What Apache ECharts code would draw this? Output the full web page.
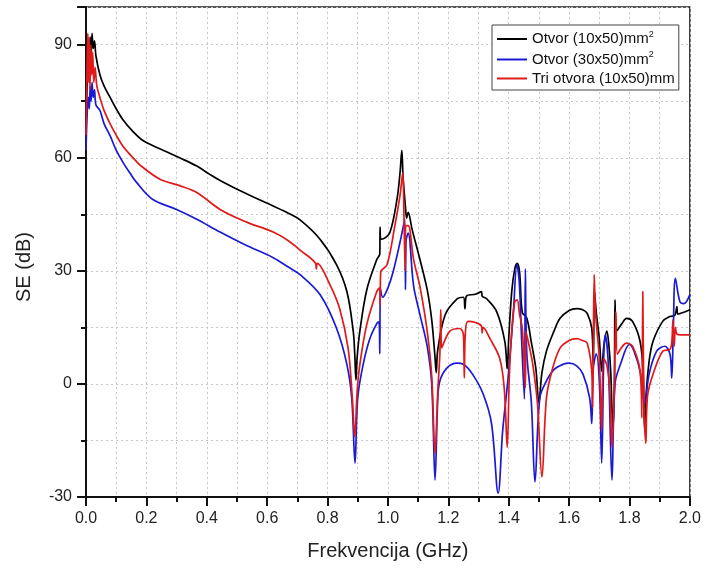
<!DOCTYPE html>
<html>
<head>
<meta charset="utf-8">
<script src="https://cdn.jsdelivr.net/npm/echarts@6/dist/echarts.min.js"></script>
<style>html,body{margin:0;padding:0;background:#fff}#c{width:704px;height:575px}</style>
</head>
<body>
<div id="c"></div>
<script>
// Series names
const seriesNames = ['Otvor (10x50)mm{sup|2}', 'Otvor (30x50)mm{sup|2}', 'Tri otvora (10x50)mm'];
// Axis ticks
const xTicks = [0.0, 0.2, 0.4, 0.6, 0.8, 1.0, 1.2, 1.4, 1.6, 1.8, 2.0];
const yTicks = [-30, 0, 30, 60, 90];

// [frequency GHz, SE dB]
const black = [
[0.000,68],[0.004,80],[0.008,88],[0.011,84],[0.014,92],[0.017,87],[0.020,93],[0.024,89],[0.028,91],[0.033,87],
[0.046,82],[0.06,79],[0.08,76],[0.10,73],[0.123,70],[0.155,67],[0.19,64.5],[0.255,62],[0.31,60],[0.367,57.8],
[0.41,55.6],[0.444,54],[0.53,50.5],[0.62,47.2],[0.67,45.3],[0.709,43.5],[0.775,38.4],[0.83,31.6],[0.864,24.5],
[0.885,14],[0.89,8],[0.894,1],[0.898,7],[0.907,14],[0.93,25],[0.963,33],[0.973,34.5],[0.974,41.6],[0.976,38.4],
[0.985,38.5],[1.007,40.3],[1.03,49],[1.04,56],[1.046,62],[1.05,55],[1.058,47],[1.062,44],[1.067,45.5],[1.08,41],
[1.106,33],[1.13,25],[1.145,17],[1.155,8],[1.16,3],[1.165,9],[1.19,18.4],[1.23,22.6],[1.25,23],[1.255,20],
[1.26,23.3],[1.29,23.8],[1.31,24.5],[1.312,23.3],[1.327,22.6],[1.36,19.2],[1.387,11.3],[1.395,4],[1.40,12],
[1.41,24.5],[1.42,30.5],[1.428,32],[1.436,29.7],[1.445,19],[1.46,17.4],[1.475,11],[1.49,4],[1.50,-5],[1.51,3],
[1.525,8.7],[1.55,14],[1.57,17.4],[1.6,19.5],[1.625,20],[1.645,19.7],[1.66,18.7],[1.675,14.7],[1.68,5],[1.684,24.5],
[1.69,19],[1.70,12],[1.708,3.4],[1.715,10],[1.725,14],[1.732,10],[1.738,3],[1.745,-12],[1.75,0],[1.752,22.3],
[1.757,14],[1.775,16],[1.79,17.4],[1.81,16.6],[1.835,11.3],[1.845,3],[1.85,-12],[1.855,-3],[1.865,6],[1.878,11.3],
[1.91,16.6],[1.934,17.9],[1.95,18.2],[1.957,20.5],[1.96,18.5],[1.98,19],[2.0,19.7]
];
const blue = [
[0.000,62],[0.004,72],[0.008,76],[0.011,73],[0.014,79],[0.017,75],[0.020,80],[0.024,76],[0.028,78],[0.033,74],
[0.046,72.6],[0.06,69],[0.08,65.8],[0.10,62],[0.123,58.7],[0.145,56],[0.168,53.4],[0.22,49],[0.3,46.3],[0.367,43.7],
[0.444,40.3],[0.53,36.8],[0.62,33.5],[0.67,31],[0.709,29],[0.775,23.7],[0.83,14.7],[0.864,5.2],[0.88,-3.7],
[0.891,-21],[0.9,-3.7],[0.918,5.2],[0.94,12],[0.963,16],[0.970,16.5],[0.973,8],[0.975,25.3],[0.983,23],[1.0,25.5],
[1.017,29.7],[1.04,37.6],[1.056,43.7],[1.058,25],[1.06,38],[1.067,40],[1.085,26],[1.106,18.4],[1.13,10],[1.145,0],
[1.156,-25.5],[1.165,-4],[1.172,0.8],[1.195,4.2],[1.228,5.5],[1.25,5.2],[1.28,2.6],[1.315,-2.6],[1.343,-10.5],
[1.365,-29],[1.38,-12.4],[1.397,0.8],[1.415,18.4],[1.427,31.6],[1.435,27],[1.443,11.3],[1.452,-4],[1.455,30.5],
[1.46,8],[1.475,-5],[1.487,-26],[1.503,-3.7],[1.525,0.8],[1.55,3.8],[1.58,5.2],[1.60,5.5],[1.625,4.8],[1.646,2.6],
[1.668,-3.7],[1.675,-10.5],[1.68,4],[1.69,8],[1.70,0.8],[1.708,-21],[1.715,8],[1.72,13],[1.73,5],[1.742,-25.5],
[1.752,0],[1.77,5.2],[1.80,10.5],[1.815,8.7],[1.835,3.4],[1.85,-5.3],[1.865,2.6],[1.89,8.7],[1.917,10],[1.934,7.9],
[1.94,1.6],[1.945,14],[1.952,28],[1.967,21.8],[1.98,21.3],[2.0,23.7]
];
const red = [
[0.000,66],[0.003,82],[0.006,93],[0.008,80],[0.010,92],[0.013,78],[0.016,90],[0.019,82],[0.022,88],[0.026,80],
[0.030,84],[0.036,79],[0.046,76],[0.06,72.5],[0.08,69],[0.10,66],[0.123,63],[0.15,60.5],[0.18,58],[0.245,54.3],
[0.31,52.6],[0.367,50.8],[0.444,46.3],[0.53,43],[0.62,40.3],[0.67,38],[0.709,35.5],[0.76,32],[0.763,30.5],[0.766,32],
[0.808,26.3],[0.84,20],[0.868,9.5],[0.882,-3.7],[0.89,-14],[0.898,-2],[0.907,5.2],[0.93,15.8],[0.963,24.5],
[0.972,25.5],[0.974,21],[0.976,29.7],[0.997,31.6],[1.023,42],[1.04,50],[1.049,56],[1.053,45],[1.057,30],[1.059,42],
[1.067,42],[1.085,33],[1.106,25.8],[1.13,14],[1.145,2],[1.156,-18.4],[1.165,-2],[1.172,8],[1.175,19.7],[1.178,9.5],
[1.205,14],[1.238,14.7],[1.25,13],[1.253,1.6],[1.256,13],[1.265,16.6],[1.29,16.3],[1.31,15.3],[1.312,13.5],[1.315,15],
[1.338,12],[1.37,6.8],[1.385,-1],[1.395,-16.8],[1.402,2],[1.41,14],[1.42,21.8],[1.428,22.3],[1.436,18.4],[1.445,14.7],
[1.455,-1],[1.457,14],[1.468,10],[1.48,5],[1.495,-5],[1.51,-24.7],[1.525,-3.7],[1.545,4],[1.57,9.5],[1.60,11.5],
[1.625,12],[1.645,11.5],[1.66,10.8],[1.675,3.4],[1.678,-6.3],[1.683,29],[1.688,18.4],[1.70,6.8],[1.708,-12.4],
[1.714,6.8],[1.725,5],[1.735,-2],[1.742,-16.8],[1.75,0],[1.755,19.2],[1.76,7.9],[1.79,10.8],[1.81,10],[1.835,3.4],
[1.841,-9],[1.844,24.5],[1.848,-5],[1.854,-15.8],[1.86,-3],[1.878,2.6],[1.91,8.7],[1.934,9.2],[1.94,11],[1.944,17],
[1.948,10],[1.952,15],[1.957,13.2],[1.97,13],[2.0,13]
];
const colors = ['#000000', '#1a1ad6', '#e01a1a'];
const seriesData = [black, blue, red];

const font = 'Liberation Sans, Arial, Helvetica, sans-serif';
const chart = echarts.init(document.getElementById('c'), null, {renderer: 'canvas'});
const splitStyle = {show: true, lineStyle: {color: '#c8c8c8', type: [2, 3], width: 1}};
chart.setOption({
  animation: false,
  backgroundColor: '#fff',
  grid: {left: 86, right: 14, top: 7, bottom: 78, show: true, borderColor: '#222', borderWidth: 1.5, backgroundColor: 'transparent'},
  legend: {
    show: true, orient: 'vertical', left: 492, top: 25,
    icon: 'rect', itemWidth: 30, itemHeight: 2, itemGap: 4,
    borderColor: '#444', borderWidth: 1, padding: [5, 4, 4, 5], backgroundColor: '#fff',
    textStyle: {fontFamily: font, fontSize: 15, color: '#111', padding: [0, 0, 0, 0],
      rich: {sup: {fontSize: 9, fontFamily: font, color: '#111', padding: [0, 0, 9, 0]}}},
    data: seriesNames
  },
  xAxis: {
    type: 'value', min: 0, max: 2, interval: 0.2,
    name: 'Frekvencija (GHz)', nameLocation: 'middle', nameGap: 44,
    nameTextStyle: {fontFamily: font, fontSize: 20, color: '#222'},
    axisLine: {show: true, onZero: false, lineStyle: {color: '#111', width: 2}},
    axisTick: {show: true, inside: false, length: 9, lineStyle: {color: '#111', width: 2}},
    minorTick: {show: true, splitNumber: 2, length: 5, lineStyle: {color: '#111', width: 2}},
    axisLabel: {fontFamily: font, fontSize: 16, color: '#222', margin: 14,
      formatter: v => { const t = xTicks.find(x => Math.abs(x - v) < 1e-6); return t === undefined ? '' : t.toFixed(1); }},
    splitLine: splitStyle,
    minorSplitLine: splitStyle
  },
  yAxis: {
    type: 'value', min: -30, max: 100, interval: 30,
    name: 'SE (dB)', nameLocation: 'middle', nameGap: 52,
    nameTextStyle: {fontFamily: font, fontSize: 20, color: '#222', padding: [0, 0, 0, -30]},
    axisLine: {show: true, onZero: false, lineStyle: {color: '#111', width: 2}},
    axisTick: {show: true, inside: false, length: 9, lineStyle: {color: '#111', width: 2}},
    minorTick: {show: true, splitNumber: 2, length: 5, lineStyle: {color: '#111', width: 2}},
    axisLabel: {fontFamily: font, fontSize: 16, color: '#222', margin: 14, showMaxLabel: false,
      formatter: v => yTicks.indexOf(v) >= 0 ? String(v) : ''},
    splitLine: splitStyle,
    minorSplitLine: splitStyle
  },
  series: seriesData.map((d, i) => ({
    name: seriesNames[i], type: 'line', data: d, symbol: 'none', sampling: null,
    smooth: 0.35,
    lineStyle: {color: colors[i], width: 1.7}, itemStyle: {color: colors[i]}, z: 2 + i
  }))
});
</script>
</body>
</html>
